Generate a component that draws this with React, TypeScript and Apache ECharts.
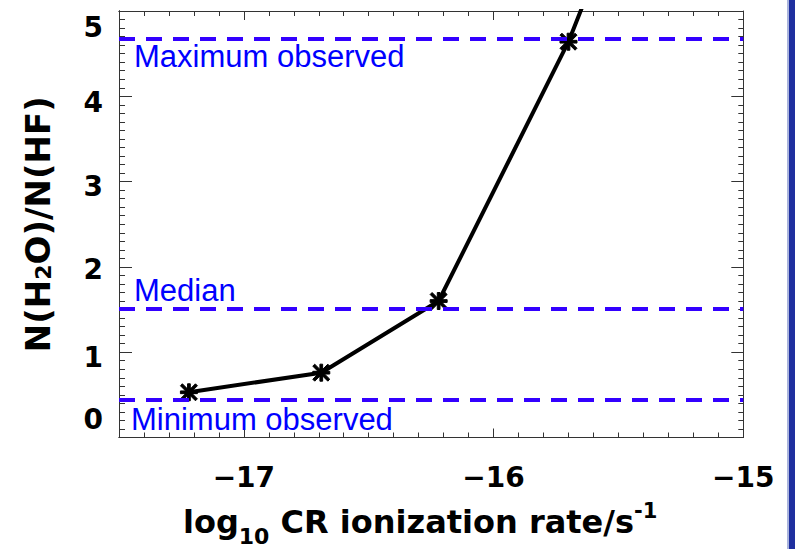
import React, { useEffect, useRef } from "react";
import * as echarts from "echarts";

// ---- data ----
const X_VALUES = [-17.22, -16.69, -16.22, -15.7, -15.22];
const RATIO_VALUES = [0.53, 0.76, 1.6, 4.64, 8.2];
const X_TICKS = [-17, -16, -15];
const REF_VALUES = [4.68, 1.515, 0.44];
const REF_LABELS = ["Maximum observed", "Median", "Minimum observed"];

const BOLD_FONT = "DejaVu Sans";
const AXIS_COLOR = "#333";

const asterisk =
  "path://M8.4 0H11.6V20H8.4Z M0 8.4H20V11.6H0Z M0 2.3L2.3 0L20 17.7L17.7 20Z M17.7 0L20 2.3L2.3 20L0 17.7Z";

const fmtX = (v: number) => {
  if (Math.abs(v - Math.round(v)) > 1e-6) return "";
  const r = Math.round(v);
  return (r < 0 ? "\u2212" : "") + Math.abs(r);
};

export default function App() {
  const ref = useRef<HTMLDivElement>(null);
  useEffect(() => {
    if (!ref.current) return;
    const chart = echarts.init(ref.current, null, { renderer: "svg" });
    const gridPos = { left: 119, right: 51.7, top: 11, bottom: 111.5, outerBoundsMode: "none" };
    // helper grid whose right edge coincides with the left plot edge (for left-side ticks)
    const gridLeftTicks = { left: 40, right: 795 - 119, top: 11, bottom: 111.5, outerBoundsMode: "none" };
    const yShift: Record<string, number[]> = {
      y0: [0, 0, 36, 0],
      y1: [10, 0, 0, 0],
      y2: [6, 0, 0, 0],
      y3: [10, 0, 0, 0],
      y4: [12, 0, 0, 0],
      y5: [32, 0, 0, 0],
    };
    const yRich: Record<string, any> = {};
    Object.keys(yShift).forEach((k) => {
      yRich[k] = {
        fontFamily: BOLD_FONT,
        fontWeight: "bold",
        fontSize: 28,
        lineHeight: 28,
        color: "#000",
        padding: yShift[k],
      };
    });

    const refData = REF_VALUES.map((v, i) => ({
      yAxis: v,
      name: REF_LABELS[i],
      label: {
        position: i === 1 ? "insideStartTop" : "insideStartBottom",
        distance: i === 2 ? [12, 4] : [15, 3],
      },
    }));

    const line = { show: true, onZero: false, lineStyle: { color: AXIS_COLOR } };

    const option: any = {
      animation: false,
      grid: [gridPos, { ...gridPos }, gridLeftTicks],
      xAxis: [
        {
          type: "value",
          min: -17.5,
          max: -15,
          gridIndex: 0,
          position: "bottom",
          interval: 0.1,
          axisLine: line,
          axisTick: { show: true, inside: true, length: 5, lineStyle: { color: AXIS_COLOR } },
          axisLabel: {
            show: true,
            customValues: X_TICKS,
            formatter: fmtX,
            margin: 26,
            fontFamily: BOLD_FONT,
            fontWeight: "bold",
            fontSize: 28,
            color: "#000",
          },
          splitLine: { show: false },
          name: "{l|log}{sub|10}{l| CR ionization rate/s}{sup|-1}",
          nameLocation: "middle",
          nameGap: 58,
          nameTextStyle: {
            padding: [0, 22, 0, 0],
            rich: {
              l: { fontFamily: BOLD_FONT, fontWeight: "bold", fontSize: 32, lineHeight: 44, color: "#000" },
              sub: { fontFamily: BOLD_FONT, fontWeight: "bold", fontSize: 22, lineHeight: 22, color: "#000", padding: [29, 0, 0, 0] },
              sup: { fontFamily: BOLD_FONT, fontWeight: "bold", fontSize: 21, lineHeight: 21, color: "#000", padding: [0, 0, 22, 0] },
            },
          },
        },
        {
          type: "value",
          min: -17.5,
          max: -15,
          gridIndex: 0,
          position: "top",
          interval: 0.1,
          axisLine: line,
          axisTick: { show: true, inside: true, length: 5, lineStyle: { color: AXIS_COLOR } },
          axisLabel: { show: false },
          splitLine: { show: false },
        },
        {
          type: "value",
          min: -17.5,
          max: -15,
          gridIndex: 1,
          position: "bottom",
          axisLine: line,
          axisTick: { show: true, inside: true, length: 9, customValues: X_TICKS, lineStyle: { color: AXIS_COLOR } },
          axisLabel: { show: false },
          splitLine: { show: false },
        },
        {
          type: "value",
          min: -17.5,
          max: -15,
          gridIndex: 1,
          position: "top",
          axisLine: line,
          axisTick: { show: true, inside: true, length: 9, customValues: X_TICKS, lineStyle: { color: AXIS_COLOR } },
          axisLabel: { show: false },
          splitLine: { show: false },
        },
        {
          type: "value",
          min: 0,
          max: 1,
          gridIndex: 2,
          show: false,
        },
      ],
      yAxis: [
        {
          type: "value",
          gridIndex: 0,
          min: 0,
          max: 5,
          interval: 1,
          position: "left",
          axisLine: line,
          axisTick: { show: true, inside: true, length: 13, lineStyle: { color: AXIS_COLOR } },
          minorTick: { show: true, splitNumber: 10, length: 6, lineStyle: { color: AXIS_COLOR } },
          axisLabel: {
            show: true,
            margin: 16,
            formatter: (v: number) => `{y${Math.round(v)}|${Math.round(v)}}`,
            rich: yRich,
          },
          splitLine: { show: false },
          name: "{t|N(H}{s|2}{t|O)/N(HF)}",
          nameLocation: "middle",
          nameGap: 61,
          nameTextStyle: {
            rich: {
              t: { fontFamily: BOLD_FONT, fontWeight: "bold", fontSize: 34, lineHeight: 40, color: "#000" },
              s: { fontFamily: BOLD_FONT, fontWeight: "bold", fontSize: 22, lineHeight: 22, color: "#000", padding: [10, 0, 0, 0] },
            },
          },
        },
        {
          type: "value",
          gridIndex: 0,
          min: 0,
          max: 5,
          interval: 1,
          position: "right",
          axisLine: line,
          axisTick: { show: true, inside: true, length: 12, lineStyle: { color: AXIS_COLOR } },
          minorTick: { show: true, splitNumber: 10, length: 5, lineStyle: { color: AXIS_COLOR } },
          axisLabel: { show: false },
          splitLine: { show: false },
        },
        {
          type: "value",
          gridIndex: 1,
          min: 0,
          max: 5,
          interval: 1,
          position: "left",
          axisLine: line,
          axisTick: { show: true, inside: true, length: 13, lineStyle: { color: AXIS_COLOR } },
          minorTick: { show: true, splitNumber: 10, length: 6, lineStyle: { color: AXIS_COLOR } },
          axisLabel: { show: false },
          splitLine: { show: false },
        },
        {
          // right edge of helper grid sits on the plot's left edge; outward ticks point into the plot
          type: "value",
          gridIndex: 2,
          min: 0,
          max: 5,
          interval: 1,
          position: "right",
          axisLine: { show: true, onZero: false, lineStyle: { color: AXIS_COLOR } },
          axisTick: { show: true, inside: false, length: 13, lineStyle: { color: AXIS_COLOR } },
          minorTick: { show: true, splitNumber: 10, length: 6, lineStyle: { color: AXIS_COLOR } },
          axisLabel: { show: false },
          splitLine: { show: false },
        },
      ],
      series: [
        {
          type: "line",
          name: "N(H2O)/N(HF)",
          xAxisIndex: 0,
          yAxisIndex: 0,
          data: X_VALUES.map((x, i) => [x, RATIO_VALUES[i]]),
          lineStyle: { color: "#000", width: 4 },
          symbol: asterisk,
          symbolSize: 17,
          showAllSymbol: true,
          itemStyle: { color: "#000", borderColor: "#000", borderWidth: 1 },
          markLine: {
            silent: true,
            symbol: ["none", "none"],
            lineStyle: { color: "#3300ff", width: 4, type: [16, 11] },
            label: {
              show: true,
              formatter: (p: any) => p.name,
              fontFamily: "Liberation Sans",
              fontSize: 31,
              lineHeight: 31,
              color: "#0000ff",
            },
            data: refData,
          },
        },
      ],
      graphic: [
        { type: "rect", shape: { x: 789, y: 0, width: 6, height: 549 }, style: { fill: "#1f2f9f" } },
        { type: "rect", shape: { x: 787, y: 0, width: 2, height: 549 }, style: { fill: "#aab4dd" } },
      ],
    };
    chart.setOption(option);
    return () => chart.dispose();
  }, []);
  return <div ref={ref} style={{ position: "fixed", left: 0, top: 0, width: 795, height: 549, background: "#fff" }} />;
}
